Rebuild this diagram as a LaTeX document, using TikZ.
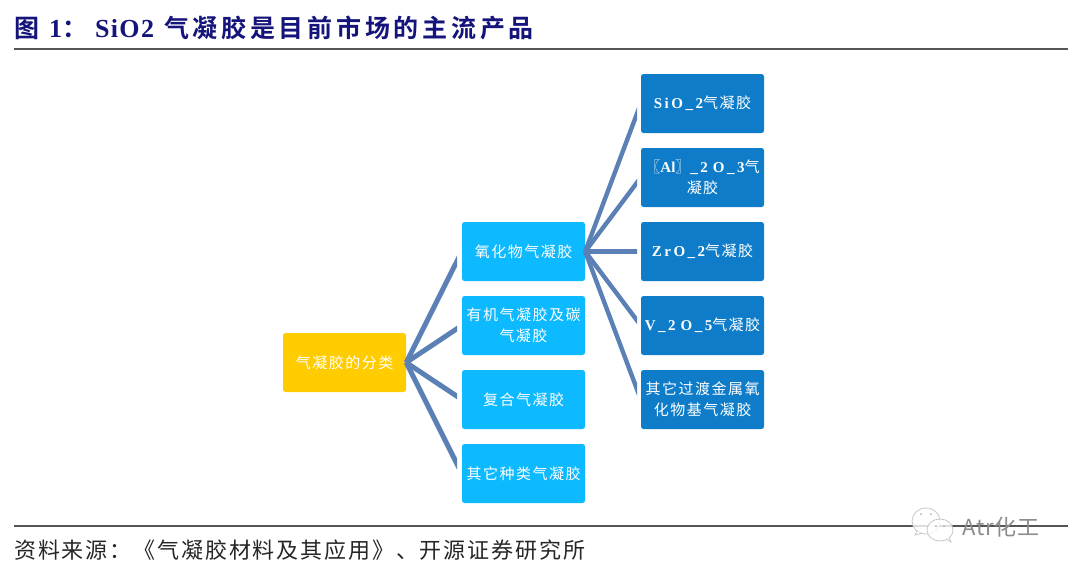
\documentclass[tikz,border=0pt]{standalone}
\usepackage{fontspec}
\setmainfont{Noto Sans CJK SC}[LetterSpace=10]
\newfontfamily\cjtitle{Noto Sans CJK SC Bold}[LetterSpace=15]
\newfontfamily\lat{Liberation Serif Bold}
\newfontfamily\lattitle{Liberation Serif Bold}[LetterSpace=5]
\newfontfamily\foot{Noto Sans CJK SC}[LetterSpace=8.5]
\newfontfamily\wmfont{Noto Sans CJK SC}[LetterSpace=4]
\newcommand{\fwcolon}{\symbol{65306}}
\definecolor{rootcol}{HTML}{FFCC00}
\definecolor{midcol}{HTML}{0DB9FF}
\definecolor{leafcol}{HTML}{0E7CC8}
\definecolor{linkcol}{HTML}{5A80B6}
\definecolor{navy}{HTML}{14147A}
\definecolor{rulecol}{HTML}{555555}
\tikzset{
  x=1pt,y=-1pt,
  box/.style={rounded corners=2.5pt,minimum width=123pt,minimum height=59pt,inner sep=0pt,text width=122pt,align=center,text=white,font=\fontsize{15}{21}\selectfont},
  rootbox/.style={box,fill=rootcol},
  midbox/.style={box,fill=midcol},
  leafbox/.style={box,fill=leafcol},
  link/.style={draw=linkcol,line width=5pt},
  linkthin/.style={draw=linkcol,line width=4.4pt},
  rulel/.style={draw=rulecol,line width=1.2pt},
  bubble/.style={draw=black!22,fill=white,fill opacity=.8,line width=.8pt},
  eye/.style={fill=black!30,draw=none},
}
\begin{document}
\begin{tikzpicture}
\useasboundingbox (0,0) rectangle (1080,574);
\node[anchor=west,text=navy,font=\cjtitle\fontsize{25}{27}\selectfont,inner sep=0pt] (title) at (14,28) {图\hspace{10pt}{\lattitle\fontsize{26}{26}\selectfont 1}\fwcolon\hspace{8pt}{\lattitle\fontsize{26}{26}\selectfont SiO2}\hspace{10pt}气凝胶是目前市场的主流产品};
\coordinate (t1) at (14,49); \coordinate (t2) at (1068,49);
\draw[rulel] (t1) -- (t2);
\coordinate (b1) at (14,526); \coordinate (b2) at (1068,526);
\draw[rulel] (b1) -- (b2);
\node[anchor=west,text=black!85,font=\foot\fontsize{22}{24}\selectfont,inner sep=0pt] (src) at (14,550) {资料来源\fwcolon《气凝胶材料及其应用》、开源证券研究所};

\node[rootbox] (root) at (344.5,362.5) {气凝胶的分类};
\node[midbox] (m1) at (523.5,251.5) {氧化物气凝胶};
\node[midbox] (m2) at (523.5,325.5) {有机气凝胶及碳\\气凝胶};
\node[midbox] (m3) at (523.5,399.5) {复合气凝胶};
\node[midbox] (m4) at (523.5,473.5) {其它种类气凝胶};
\node[leafbox] (l1) at (702.5,103.5) {{\lat S\,i\,O\,\_\,2}气凝胶};
\node[leafbox] (l2) at (702.5,177.5) {〖{\lat Al}〗{\lat \_\,2\,\,O\,\_\,3}气\\凝胶};
\node[leafbox] (l3) at (702.5,251.5) {{\lat Z\,r\,O\,\_\,2}气凝胶};
\node[leafbox] (l4) at (702.5,325.5) {{\lat V\,\_\,2\,\,O\,\_\,5}气凝胶};
\node[leafbox] (l5) at (702.5,399.5) {其它过渡金属氧\\化物基气凝胶};

\begin{scope}
\clip (400,0) rectangle (457,574);
\foreach \t in {m1,m2,m3,m4} \draw[link] (root.east) -- (\t.west);
\end{scope}
\begin{scope}
\clip (580,0) rectangle (637,574);
\foreach \t in {l1,l2,l3,l4,l5} \draw[linkthin] (m1.east) -- (\t.west);
\end{scope}

% watermark
\draw[bubble] (926,521) ellipse (14pt and 13pt);
\draw[bubble] (917,531) -- (915,535) -- (922,533);
\fill[eye] (921,514) circle (1pt) (931,514) circle (1pt);
\draw[bubble] (940,530) ellipse (13pt and 11pt);
\draw[bubble] (946,539) -- (951,542) -- (949,537);
\fill[eye] (936,526) circle (1pt) (944,526) circle (1pt);
\node[text=black!45,font=\wmfont\fontsize{22}{23}\selectfont,inner sep=0pt,anchor=west] (wm) at (962,527) {Atr化工};
\end{tikzpicture}
\end{document}
